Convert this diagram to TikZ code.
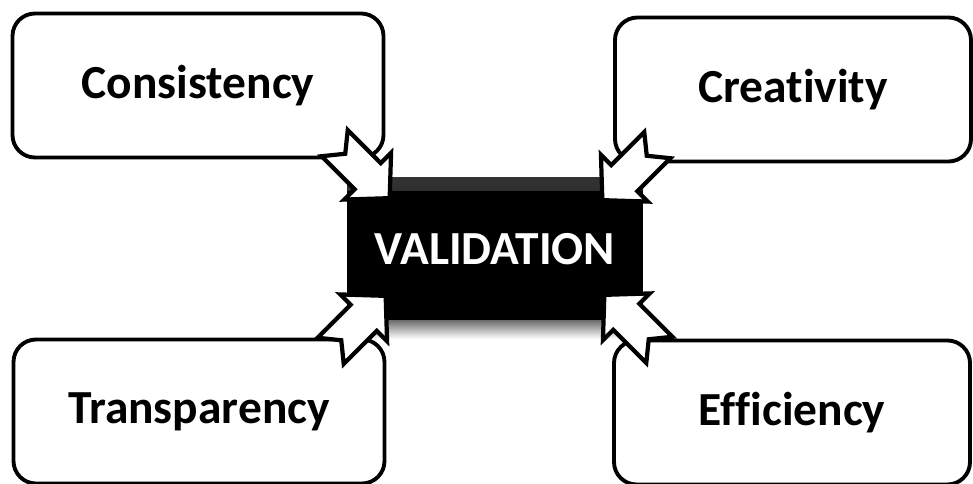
\documentclass[tikz,border=0pt]{standalone}
\usepackage{fontspec}
\setmainfont{Carlito}[Ligatures=NoCommon]
\usepackage{tikz}
\usetikzlibrary{positioning,calc}

\newcommand{\notcharrow}[2]{%
  \coordinate (#2 base) at ($(#2)!0.62cm!(#1)$);
  \draw[notch arrow] ($(#1)!0.3cm!(#2)$)
    -- ($(#1)!0.37cm!90:(#2)$) -- ($(#2 base)!0.37cm!90:(#2)$)
    -- ($(#2 base)!0.66cm!90:(#2)$) -- (#2)
    -- ($(#2 base)!0.66cm!-90:(#2)$) -- ($(#2 base)!0.37cm!-90:(#2)$)
    -- ($(#1)!0.37cm!-90:(#2)$) -- cycle;}

\begin{document}
\begin{tikzpicture}[on grid,
  side box/.style={rectangle,draw,fill=white,line width=2.2pt,rounded corners=0.45cm,
    minimum width=7.42cm,minimum height=2.88cm,font=\fontsize{27}{32}\selectfont\bfseries},
  centre box/.style={rectangle,fill=black,text=white,minimum width=5.92cm,minimum height=2.86cm,
    font=\fontsize{27}{32}\selectfont\bfseries,
    path picture={\shade[top color=black!80,bottom color=black]
      (path picture bounding box.north west) rectangle ([yshift=-0.26cm]path picture bounding box.north east);}},
  notch arrow/.style={draw,fill=white,line width=2.4pt}]
  \useasboundingbox (0,0) rectangle (19.46,9.66);

  \node[centre box] (val) at (9.9,4.68) {VALIDATION};
  \shade[top color=black!55,bottom color=white] (val.south west) rectangle ([yshift=-0.36cm]val.south east);
  \node[side box] (cons) [above left=3.27cm and 5.94cm of val] {Consistency};
  \node[side box,minimum width=7.12cm] (crea) [above right=3.19cm and 5.96cm of val] {Creativity};
  \node[side box] (trans) [below left=3.25cm and 5.92cm of val] {Transparency};
  \node[side box,minimum width=7.12cm] (effi) [below right=3.27cm and 5.94cm of val] {Efficiency};

  \coordinate (tip cons) at ([shift={(0.86,-0.42)}]val.north west);
  \coordinate (tail cons) at ([shift={(-1.1,1.1)}]tip cons);
  \coordinate (tip crea) at ([shift={(-0.82,-0.46)}]val.north east);
  \coordinate (tail crea) at ([shift={(1.1,1.1)}]tip crea);
  \coordinate (tip trans) at ([shift={(0.78,0.5)}]val.south west);
  \coordinate (tail trans) at ([shift={(-1.1,-1.1)}]tip trans);
  \coordinate (tip effi) at ([shift={(-0.78,0.52)}]val.south east);
  \coordinate (tail effi) at ([shift={(1.1,-1.1)}]tip effi);

\notcharrow{tail cons}{tip cons}
\notcharrow{tail crea}{tip crea}
\notcharrow{tail trans}{tip trans}
\notcharrow{tail effi}{tip effi}
\end{tikzpicture}
\end{document}
